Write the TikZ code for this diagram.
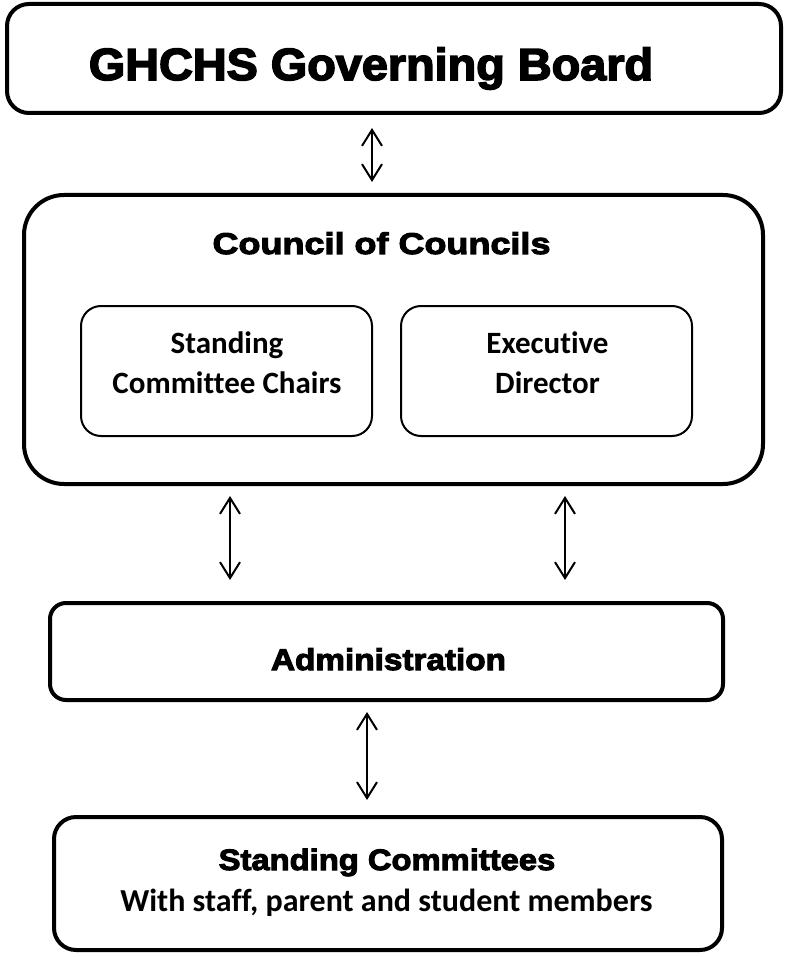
\documentclass[tikz,border=0pt]{standalone}
\usepackage{fontspec}
\setmainfont{Liberation Sans}
\newfontfamily\hTitle{Liberation Sans}[BoldFeatures={FakeBold=3.5,FakeStretch=1.04}]
\newfontfamily\hCouncil{Liberation Sans}[BoldFeatures={FakeBold=3.5,FakeStretch=1.2}]
\newfontfamily\hAdmin{Liberation Sans}[BoldFeatures={FakeBold=3.5,FakeStretch=1.11}]
\newfontfamily\calib{Carlito}[Ligatures=NoCommon]
\usetikzlibrary{arrows.meta}
\begin{document}
\begin{tikzpicture}[x=1pt,y=-1pt,
  box/.style={draw=black, line width=4pt, rounded corners=#1, fill=white, inner sep=0pt, outer sep=0pt},
  box/.default=20pt,
  inbox/.style={draw=black, line width=2pt, rounded corners=20pt, inner sep=0pt, outer sep=0pt,
    minimum width=291pt, minimum height=130pt},
  dbl/.style={line width=2pt, {Straight Barb[length=16pt,width=20pt,line width=2pt]}-{Straight Barb[length=16pt,width=20pt,line width=2pt]}},
  txt/.style={anchor=base, inner sep=0pt},
  caltxt/.style={txt, font=\calib\bfseries\fontsize{31}{40}\selectfont}
]
\useasboundingbox (0,0) rectangle (787,957);
\node[box=22pt, minimum width=774pt, minimum height=109pt] (top) at (394,58.5) {};
\node[txt, font=\hTitle\bfseries\fontsize{45}{50}\selectfont] (toptxt) at (371,80) {GHCHS Governing Board};

\node[box=40pt, minimum width=739pt, minimum height=289pt] (council) at (393.5,339.5) {};
\node[txt, font=\hCouncil\bfseries\fontsize{30}{32}\selectfont] (ctitle) at (381.5,254) {Council of Councils};

\node[inbox] (chairs) at (226.5,371) {};
\node[caltxt] (chairs1) at (227,353) {Standing};
\node[caltxt] (chairs2) at (227,393) {Committee Chairs};
\node[inbox] (exec) at (546.5,371) {};
\node[caltxt] (exec1) at (547.5,353) {Executive};
\node[caltxt] (exec2) at (547.5,393) {Director};

\node[box=16pt, minimum width=673pt, minimum height=97pt] (admin) at (386.5,651.5) {};
\node[txt, font=\hAdmin\bfseries\fontsize{30}{32}\selectfont] (admintxt) at (388.5,670) {Administration};

\node[box=22pt, minimum width=668pt, minimum height=133pt] (bottom) at (388,883.5) {};
\node[txt, font=\hAdmin\bfseries\fontsize{29.5}{32}\selectfont] (bt1) at (387,870) {Standing Committees};
\node[txt, font=\calib\bfseries\fontsize{32}{36}\selectfont] (bt2) at (386.5,911) {With staff, parent and student members};

\coordinate (a1t) at (372,128);
\coordinate (a1b) at (372,182);
\coordinate (a2t) at (230,496);
\coordinate (a2b) at (230,580);
\coordinate (a3t) at (565,496);
\coordinate (a3b) at (565,580);
\coordinate (a4t) at (367,712);
\coordinate (a4b) at (367,800);
\draw[dbl] (a1t) -- (a1b);
\draw[dbl] (a2t) -- (a2b);
\draw[dbl] (a3t) -- (a3b);
\draw[dbl] (a4t) -- (a4b);
\end{tikzpicture}
\end{document}
